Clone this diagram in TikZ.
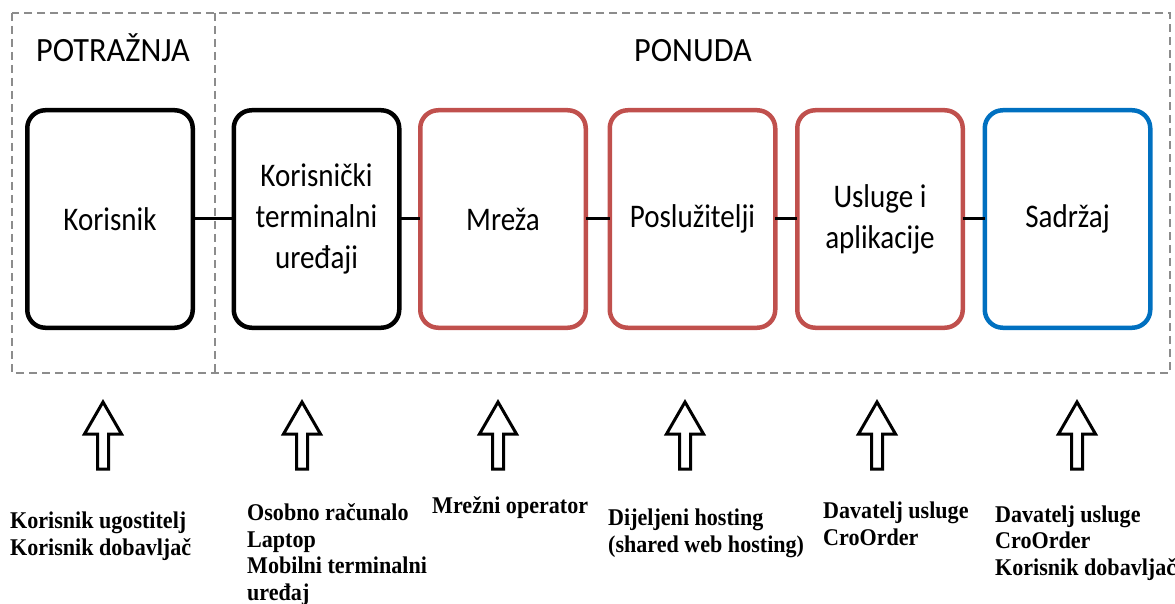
\documentclass[tikz,border=0pt]{standalone}
\usepackage{fontspec}
\setmainfont[FakeStretch=0.88]{Carlito}
\newfontfamily\headfont[FakeStretch=0.95]{Carlito}
\newfontfamily\notefont[FakeStretch=0.92]{Liberation Serif}
\usetikzlibrary{positioning}
\definecolor{redline}{HTML}{C0504D}
\definecolor{blueline}{HTML}{0070C0}
\definecolor{frameline}{HTML}{8C8C8C}
\tikzset{
  stage/.style={draw=black, line width=4.5pt, rounded corners=18pt, minimum width=165.5pt, minimum height=217.5pt,
    outer sep=0pt, align=center, font=\fontsize{33}{41}\selectfont},
  frame/.style={frameline, line width=1.5pt, dash pattern=on 8pt off 5pt},
  link/.style={black, line width=3pt},
  uparrow/.style={black, line width=3pt, fill=white, line join=miter},
  note/.style={anchor=base west, align=left, inner sep=0pt, font=\notefont\bfseries\fontsize{24}{26.5}\selectfont},
  heading/.style={anchor=base, inner sep=0pt, font=\headfont\fontsize{34}{40}\selectfont}
}
\begin{document}
\begin{tikzpicture}[x=1pt,y=-1pt,node distance=18pt]
\useasboundingbox (0,0) rectangle (1175,604);
% demand and supply frames
\draw[frame] (12,13) rectangle (1170,373);
\draw[frame] (215,13) -- (215,373);
\node[heading] (potraznja) at (113,62) {POTRAŽNJA};
\node[heading] (ponuda) at (693,62) {PONUDA};
% value chain
\node[stage] (korisnik) at (110,219) {Korisnik};
\node[stage, right=41pt of korisnik] (terminal) {Korisnički\\terminalni\\uređaji};
\node[stage, draw=redline, right=21pt of terminal] (mreza) {Mreža};
\node[stage, draw=redline, right=24pt of mreza] (posluzitelji) {Poslužitelji};
\node[stage, draw=redline, right=22pt of posluzitelji] (usluge) {Usluge i\\aplikacije};
\node[stage, draw=blueline, right=22pt of usluge] (sadrzaj) {Sadržaj};
\foreach \a/\b in {korisnik/terminal, terminal/mreza, mreza/posluzitelji, posluzitelji/usluge, usluge/sadrzaj}
  \draw[link] (\a) -- (\b);
% actors
\foreach \x in {103,302,498,685,877,1077}
  \draw[uparrow] (\x,402) -- ++(18.5,32) -- ++(-13,0) -- ++(0,35) -- ++(-11,0) -- ++(0,-35) -- ++(-13,0) -- cycle;
\node[note] (n1) at (10,555) {Korisnik ugostitelj\\Korisnik dobavljač};
\node[note] (n2) at (247,600) {Osobno računalo\\Laptop\\Mobilni terminalni\\uređaj};
\node[note] (n3) at (432,513) {Mrežni operator};
\node[note] (n4) at (608,552) {Dijeljeni hosting\\(shared web hosting)};
\node[note] (n5) at (823,545) {Davatelj usluge\\CroOrder};
\node[note] (n6) at (995,575) {Davatelj usluge\\CroOrder\\Korisnik dobavljač};
\end{tikzpicture}
\end{document}
